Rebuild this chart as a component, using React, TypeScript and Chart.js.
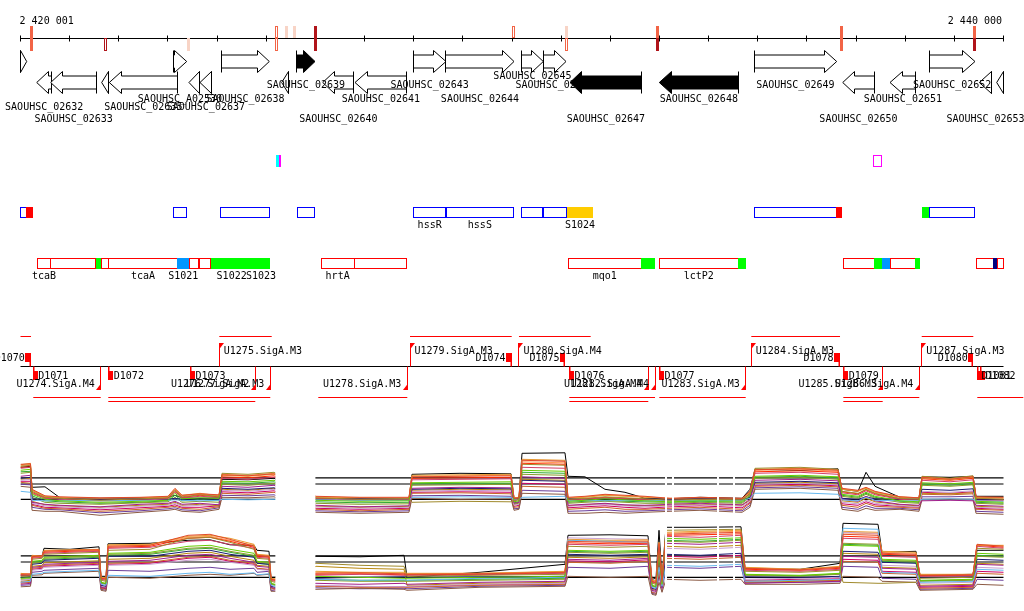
import React, { useEffect, useRef } from 'react';
import { Chart, registerables } from 'chart.js';

Chart.register(...registerables);

// ---------- genome view ----------
const VIEW_START = 2420000;
const VIEW_END = 2440000;
const TICK_STEP = 1000;
const AXIS_LABEL_POS = [2420001, 2440000];
const AXIS_LABEL_TEXT = ['2 420 001', '2 440 000'];

// variant marks on the ruler
const MARK_POS = [2420214, 2421740, 2423408, 2425219, 2425402, 2425565, 2425992, 2430041, 2431119, 2432964, 2436694, 2439420];
const MARK_UP = ['salmon', '', '', 'salmonLine', 'pink', 'pink', 'darkred', 'salmonLine', 'pink', 'salmon', 'salmon', 'salmon'];
const MARK_DOWN = ['salmon', 'darkredLine', 'pink', 'salmonLine', '', '', 'darkred', '', 'salmonLine', 'darkred', 'salmon', 'darkred'];

// genes
const GENE_START = [2419800, 2423109, 2424094, 2425620, 2427992, 2428657, 2430197, 2430637, 2434924, 2438490,
  2420330, 2420614, 2421652, 2421807, 2423428, 2423652, 2425314, 2426149, 2426806, 2431180, 2432997, 2436729, 2437691, 2439508, 2439862];
const GENE_END = [2420126, 2423381, 2425062, 2425992, 2428657, 2430041, 2430637, 2431099, 2436606, 2439420,
  2420635, 2421550, 2421786, 2423190, 2423652, 2423890, 2425449, 2426785, 2427858, 2432639, 2434604, 2437371, 2438214, 2439760, 2440300];
const GENE_STRAND = [1, 1, 1, 1, 1, 1, 1, 1, 1, 1, -1, -1, -1, -1, -1, -1, -1, -1, -1, -1, -1, -1, -1, -1, -1];
const GENE_FILLED = [0, 0, 0, 1, 0, 0, 0, 0, 0, 0, 0, 0, 0, 0, 0, 0, 0, 0, 0, 1, 1, 0, 0, 0, 0];
const GENE_NAME = ['', 'SAOUHSC_A02530', 'SAOUHSC_02638', 'SAOUHSC_02639', 'SAOUHSC_02643', 'SAOUHSC_02644', 'SAOUHSC_02645', 'SAOUHSC_02646', 'SAOUHSC_02649', 'SAOUHSC_02652',
  'SAOUHSC_02632', 'SAOUHSC_02633', '', 'SAOUHSC_02635', '', 'SAOUHSC_02637', '', 'SAOUHSC_02640', 'SAOUHSC_02641', 'SAOUHSC_02647', 'SAOUHSC_02648', 'SAOUHSC_02650', 'SAOUHSC_02651', 'SAOUHSC_02653', ''];
const GENE_LABEL_ROW = [0, 2, 2, 1, 1, 2, 0, 1, 1, 1, 3, 4, 0, 3, 0, 3, 0, 4, 2, 4, 2, 4, 2, 4, 0];

// annotation row A
const A_START = [2425198, 2425266, 2437351];
const A_END = [2425266, 2425300, 2437522];
const A_KIND = ['fill', 'fill', 'line'];
const A_COLOR = ['#00ffff', '#ff00ff', '#ff00ff'];

// annotation row B (forward)
const B_START = [2420000, 2420112, 2423109, 2424078, 2425632, 2427992, 2428657, 2430197, 2430631, 2431119, 2434930, 2436592, 2438342, 2438490];
const B_END = [2420112, 2420254, 2423381, 2425070, 2425986, 2428657, 2430035, 2430631, 2431093, 2431648, 2436592, 2436714, 2438490, 2439414];
const B_KIND = ['line', 'fill', 'line', 'line', 'line', 'line', 'line', 'line', 'line', 'fill', 'line', 'fill', 'fill', 'line'];
const B_COLOR = ['#0000ff', '#ff0000', '#0000ff', '#0000ff', '#0000ff', '#0000ff', '#0000ff', '#0000ff', '#0000ff', '#ffcc00', '#0000ff', '#ff0000', '#00ff00', '#0000ff'];
const B_LABEL = ['', '', '', '', '', 'hssR', 'hssS', '', '', 'S1024', '', '', '', ''];

// annotation row C (reverse)
const C_START = [2420342, 2420614, 2421536, 2421658, 2421795, 2423190, 2423434, 2423652, 2423882, 2424710, 2426114, 2426791, 2431146, 2432631, 2432997, 2434604, 2436741, 2437365, 2437528, 2437691, 2438199, 2439441, 2439780, 2439874];
const C_END = [2420614, 2421536, 2421638, 2421795, 2423190, 2423434, 2423626, 2423882, 2424710, 2425077, 2426791, 2427858, 2432631, 2432910, 2434604, 2434761, 2437365, 2437528, 2437691, 2438199, 2438301, 2439780, 2439874, 2440000];
const C_KIND = ['line', 'line', 'fill', 'line', 'line', 'fill', 'line', 'line', 'fill', 'fill', 'line', 'line', 'line', 'fill', 'line', 'fill', 'line', 'fill', 'fill', 'line', 'fill', 'line', 'fill', 'line'];
const C_COLOR = ['#ff0000', '#ff0000', '#00ff00', '#ff0000', '#ff0000', '#0096ff', '#ff0000', '#ff0000', '#00ff00', '#00ff00', '#ff0000', '#ff0000', '#ff0000', '#00ff00', '#ff0000', '#00ff00', '#ff0000', '#00ff00', '#0096ff', '#ff0000', '#00ff00', '#ff0000', '#000080', '#ff0000'];
const C_LABEL = ['tcaB', '', '', '', 'tcaA', 'S1021', '', '', 'S1022', 'S1023', 'hrtA', '', 'mqo1', '', 'lctP2', '', '', '', '', '', '', '', '', ''];

// transcription units (coverage lines)
const COV_START = [2420000, 2424045, 2427925, 2430142, 2434869, 2438336, 2420260, 2421786, 2426059, 2431166, 2432997, 2436741, 2439467, 2421786, 2431166, 2436741];
const COV_END = [2420214, 2425111, 2429994, 2431601, 2436674, 2439386, 2421632, 2425082, 2427870, 2432910, 2434755, 2438287, 2440403, 2424777, 2432773, 2437542];
const COV_STRAND = [1, 1, 1, 1, 1, 1, -1, -1, -1, -1, -1, -1, -1, -1, -1, -1];
const COV_LEVEL = [0, 0, 0, 0, 0, 0, 0, 0, 0, 0, 0, 0, 0, 1, 1, 1];

// promoters
const PROM_POS = [2424045, 2427925, 2430142, 2434869, 2438336, 2421632, 2424777, 2425082, 2427870, 2432773, 2432910, 2434755, 2437542, 2438287];
const PROM_STRAND = [1, 1, 1, 1, 1, -1, -1, -1, -1, -1, -1, -1, -1, -1];
const PROM_LABEL = ['U1275.SigA.M3', 'U1279.SigA.M3', 'U1280.SigA.M4', 'U1284.SigA.M3', 'U1287.SigA.M3', 'U1274.SigA.M4', 'U1276.SigA.M2', 'U1277.SigA.M3', 'U1278.SigA.M3', 'U1281.SigA.M4', 'U1282.SigA.M4', 'U1283.SigA.M3', 'U1285.SigB.M3', 'U1286.SigA.M4'];

// terminators
const TERM_START = [2420098, 2429878, 2430977, 2436551, 2439284, 2420260, 2421786, 2423449, 2431166, 2432997, 2436741, 2439467, 2439532];
const TERM_END = [2420214, 2429994, 2431078, 2436674, 2439386, 2420350, 2421888, 2423550, 2431262, 2433093, 2436842, 2439542, 2439624];
const TERM_STRAND = [1, 1, 1, 1, 1, -1, -1, -1, -1, -1, -1, -1, -1];
const TERM_LABEL = ['D1070', 'D1074', 'D1075', 'D1078', 'D1080', 'D1071', 'D1072', 'D1073', 'D1076', 'D1077', 'D1079', 'D1081', 'D1082'];

// ---------- expression profiles ----------
const REF_LEVELS = [0, 3.06, 4.3];
const GAP_START = [2425185, 2433113, 2433255, 2434171, 2434497];
const GAP_END = [2426000, 2433154, 2433296, 2434212, 2434537];

const TOP_POS = [2420000, 2420203, 2420234, 2420498, 2420804, 2421618, 2422431, 2423001, 2423143, 2423286, 2423652, 2424039,
  2424100, 2424629, 2425158, 2426012, 2426907, 2427904, 2427965, 2428942, 2429980, 2430041, 2430142, 2430204, 2431078,
  2431139, 2431485, 2431892, 2432299, 2432706, 2433215, 2433825, 2434680, 2434842, 2434944, 2435860, 2436633, 2436714,
  2437040, 2437203, 2437386, 2437894, 2438281, 2438342, 2438912, 2439380, 2439441, 2440010];

const TOP_S1 = [7.0, 7.1, 2.0, 0.7, 0.5, 0.3, 0.4, 0.6, 2.2, 0.8, 1.1, 0.9, 4.9, 4.7, 5.1, 0.6, 0.4, 0.4, 4.5, 4.6, 4.7, 0.2, 0.3, 7.8, 7.6, 0.4, 0.6, 1.0, 0.8, 0.6, 0.2, 0.4, 0.2, 1.6, 5.9, 6.1, 5.8, 2.2, 1.8, 2.4, 1.6, 0.5, 0.3, 4.4, 4.0, 4.5, 0.5, 0.4];
const TOP_S2 = [6.6, 6.8, 1.6, 0.4, 0.2, -0.2, 0.1, 0.3, 1.8, 0.5, 0.9, 0.6, 5.2, 5.0, 5.4, 0.3, 0.0, 0.1, -0.6, -0.4, -0.5, -0.2, 0.0, 7.0, 6.8, 0.0, 0.2, 0.5, 0.3, 0.1, -0.2, 0.0, -0.1, 1.2, 6.2, 6.4, 6.0, 1.6, 1.2, 2.0, 1.2, 0.2, 0.0, 4.6, 4.2, 4.7, 0.2, 0.0];
const TOP_S3 = [5.8, 6.0, 1.0, 0.0, -0.3, -0.6, -0.4, -0.2, 1.2, 0.1, 0.3, 0.2, 3.6, 3.5, 3.8, -0.2, -0.4, -0.3, 3.3, 3.4, 3.5, -0.5, -0.3, 5.8, 5.6, -0.4, -0.2, 0.1, -0.1, -0.3, -0.5, -0.3, -0.4, 0.8, 4.6, 4.8, 4.5, 1.0, 0.6, 1.4, 0.6, -0.3, -0.5, 3.3, 3.1, 3.4, -0.4, -0.6];
const TOP_S4 = [1.6, 1.4, -0.2, -0.3, -0.2, -0.3, -0.2, -0.2, -0.1, -0.2, -0.3, -0.2, 0.0, -0.1, 0.0, -0.1, -0.2, -0.2, 0.4, 0.5, 0.4, -0.1, 0.0, 0.4, 0.6, -0.3, -0.2, -0.3, -0.2, -0.3, -0.2, -0.3, -0.2, 0.2, 1.2, 1.3, 1.0, -0.1, -0.3, 0.4, -0.2, -0.3, -0.3, 0.0, 0.1, 0.0, -0.3, -0.4];
const TOP_S5 = [4.6, 4.8, -0.6, -1.0, -1.2, -1.5, -1.0, -0.8, -0.4, -1.0, -0.8, -1.1, 2.6, 2.4, 2.8, -1.2, -1.5, -1.3, 2.2, 2.4, 2.3, -0.8, -0.6, 4.5, 4.2, -1.2, -1.0, -0.8, -1.1, -1.2, -1.0, -0.8, -1.1, 0.0, 3.8, 4.0, 3.7, 0.0, -0.4, 0.6, -0.3, -1.0, -1.2, -0.3, -0.2, -0.3, -1.2, -1.4];
const TOP_S6 = [2.6, 2.4, -2.2, -2.4, -2.4, -3.2, -2.6, -2.2, -2.0, -2.4, -2.6, -2.0, 0.4, 0.3, 0.5, -2.6, -2.8, -2.6, 0.2, 0.0, 0.1, -2.2, -2.0, 1.2, 1.0, -2.8, -2.8, -2.6, -2.8, -2.6, -2.4, -2.2, -2.6, -1.6, 2.0, 2.2, 1.8, -2.0, -2.4, -1.8, -2.2, -2.0, -2.4, -0.1, 0.0, -0.1, -2.8, -3.0];
const TOP_S7 = [6.2, 6.4, 1.2, 0.2, 0.0, -0.3, -0.2, 0.1, 1.5, 0.3, 0.6, 0.4, 4.2, 4.0, 4.4, 0.1, -0.2, -0.1, 3.9, 4.0, 4.1, -0.3, -0.1, 6.4, 6.2, -0.2, 0.0, 0.3, 0.1, -0.1, -0.3, -0.1, -0.2, 1.0, 5.2, 5.4, 5.0, 1.3, 0.9, 1.7, 0.9, 0.0, -0.2, 3.8, 3.5, 3.9, -0.2, -0.3];
const TOP_S8 = [4.2, 4.4, 0.1, 0.0, 0.1, 0.0, 0.1, 0.0, 0.2, 0.0, 0.1, 0.0, 2.2, 2.0, 2.3, 0.0, 0.1, 0.0, 2.0, 2.2, 2.1, 0.0, 0.1, 3.8, 3.6, 0.1, 0.0, 0.1, 0.0, 0.1, 0.0, 0.1, 0.0, 0.3, 3.4, 3.6, 3.3, 0.2, 0.0, 0.5, 0.1, 0.0, 0.0, 2.0, 1.8, 2.1, 0.0, -0.1];
const TOP_S9 = [6.9, 7.2, 1.8, 0.6, 0.3, 0.1, 0.3, 0.5, 2.0, 0.8, 1.2, 0.7, 4.8, 4.6, 5.0, 0.5, 0.3, 0.2, 4.8, 4.9, 5.0, 0.3, 0.4, 8.0, 7.8, 0.2, 0.4, 0.8, 0.6, 0.4, 0.1, 0.3, 0.1, 1.4, 6.0, 6.2, 5.9, 2.0, 1.6, 2.2, 1.4, 0.4, 0.2, 4.3, 3.9, 4.4, 0.4, 0.3];
const TOP_S10 = [3.8, 4.0, -0.8, -1.3, -1.5, -1.8, -1.4, -1.2, -0.8, -1.4, -1.2, -1.0, 1.8, 1.6, 2.0, -1.5, -1.8, -1.6, 1.6, 1.8, 1.7, -1.2, -1.0, 7.9, 7.7, -1.4, -1.2, -1.0, -1.3, -1.5, -1.3, -1.1, -1.4, -0.4, 3.0, 3.2, 2.9, -0.6, -0.9, -0.2, -0.8, -1.3, -1.5, 1.6, 1.4, 1.7, -1.6, -1.8];
const TOP_S11 = [5.2, 5.4, 0.4, -0.6, -0.8, -1.0, -0.7, -0.5, 0.4, -0.6, -0.4, -0.6, 3.0, 2.8, 3.2, -0.8, -1.0, -0.9, 2.8, 2.9, 3.0, -1.0, -0.8, 5.0, 4.8, -0.8, -0.6, -0.4, -0.6, -0.8, -0.8, -0.6, -0.8, 0.4, 4.2, 4.4, 4.0, 0.6, 0.2, 1.0, 0.2, -0.6, -0.8, 2.8, 2.6, 2.9, -0.8, -1.0];
const TOP_S12 = [3.4, 3.2, -1.2, -1.8, -1.9, -2.4, -2.0, -1.6, -1.4, -1.8, -2.0, -1.5, 1.2, 1.0, 1.4, -2.0, -2.3, -2.0, 1.2, 1.3, 1.1, -1.6, -1.5, 2.6, 2.4, -2.0, -1.8, -1.6, -2.0, -2.0, -1.8, -1.6, -2.0, -0.8, 2.6, 2.8, 2.5, -1.2, -1.6, -0.8, -1.4, -1.6, -1.8, 1.0, 0.9, 1.1, -2.0, -2.2];
const TOP_S13 = [6.4, 6.5, 1.4, 0.3, 0.1, -0.1, 0.0, 0.2, 1.6, 0.4, 0.8, 0.5, 4.5, 4.3, 4.7, 0.2, 0.0, 0.0, 4.2, 4.3, 4.4, -0.2, 0.1, 7.2, 7.0, -0.1, 0.1, 0.4, 0.2, 0.0, -0.1, 0.1, -0.1, 1.1, 5.5, 5.7, 5.4, 1.5, 1.1, 1.9, 1.1, 0.1, -0.1, 4.1, 3.8, 4.2, 0.1, -0.1];
const TOP_S14 = [4.0, 4.2, -0.4, -1.1, -1.3, -1.6, -1.2, -1.0, -0.6, -1.2, -1.0, -1.3, 2.0, 1.8, 2.2, -1.4, -1.6, -1.4, 1.8, 2.0, 1.9, -1.0, -0.8, 4.0, 3.8, -1.3, -1.1, -0.9, -1.2, -1.3, -1.2, -1.0, -1.2, -0.2, 3.2, 3.4, 3.1, -0.3, -0.6, 0.2, -0.5, -1.1, -1.3, 1.2, 1.1, 1.3, -1.4, -1.6];
const TOP_S15 = [5.5, 5.6, 0.7, -0.3, -0.5, -0.8, -0.6, -0.3, 0.8, -0.3, 0.0, -0.2, 3.3, 3.2, 3.5, -0.5, -0.7, -0.6, 3.1, 3.2, 3.2, -0.7, -0.5, 5.4, 5.2, -0.6, -0.4, -0.2, -0.4, -0.5, -0.6, -0.4, -0.6, 0.6, 4.4, 4.6, 4.3, 0.8, 0.4, 1.2, 0.4, -0.4, -0.6, 3.0, 2.8, 3.1, -0.6, -0.8];
const TOP_S16 = [3.6, 3.6, -1.0, -1.6, -1.7, -2.1, -1.7, -1.4, -1.1, -1.6, -1.6, -1.3, 1.5, 1.3, 1.7, -1.8, -2.0, -1.8, 1.4, 1.5, 1.4, -1.4, -1.2, 3.2, 3.0, -1.7, -1.5, -1.3, -1.6, -1.8, -1.5, -1.3, -1.7, -0.6, 2.8, 3.0, 2.7, -0.9, -1.2, -0.5, -1.1, -1.4, -1.6, 1.4, 1.2, 1.5, -1.8, -2.0];
const TOP_S17 = [3.0, 2.9, -1.6, -2.0, -2.1, -2.7, -2.3, -1.9, -1.7, -2.1, -2.3, -1.7, 0.8, 0.7, 0.9, -2.3, -2.5, -2.3, 0.7, 0.8, 0.6, -1.9, -1.8, 1.8, 1.6, -2.4, -2.3, -2.1, -2.4, -2.3, -2.1, -1.9, -2.3, -1.2, 2.3, 2.5, 2.2, -1.6, -2.0, -1.3, -1.8, -1.8, -2.1, 0.5, 0.5, 0.6, -2.4, -2.6];
const TOP_S18 = [6.7, 7.0, 1.9, 0.5, 0.4, 0.2, 0.2, 0.4, 1.9, 0.7, 1.0, 0.8, 5.0, 4.8, 5.2, 0.4, 0.2, 0.3, 4.6, 4.7, 4.8, 0.1, 0.2, 7.5, 7.3, 0.3, 0.5, 0.9, 0.7, 0.5, 0.2, 0.2, 0.1, 1.5, 5.8, 6.0, 5.6, 2.1, 1.7, 2.3, 1.5, 0.5, 0.3, 4.5, 4.1, 4.6, 0.3, 0.2];
const TOP_BLACK = [6.4, 6.6, 2.4, 2.5, 0.3, 0.2, 0.3, 0.4, 0.8, 0.3, 0.2, 0.3, 4.0, 3.9, 4.2, 0.0, 0.1, 0.0, 5.0, 5.2, 5.1, 0.2, 0.4, 9.2, 9.3, 4.6, 4.5, 2.0, 1.4, 0.2, 0.1, 0.4, 0.2, 2.0, 6.0, 5.8, 6.1, 2.0, 1.6, 5.4, 2.6, 0.4, 0.3, 4.5, 4.4, 4.6, 0.6, 0.6];

const BOT_POS = [2420000, 2420203, 2420234, 2420437, 2420478, 2421007, 2421597, 2421638, 2421740, 2421780, 2422635, 2423408,
  2423856, 2424262, 2424751, 2424812, 2425056, 2425097, 2425178, 2426012, 2426907, 2427803, 2427864, 2429349, 2431078,
  2431139, 2431994, 2432767, 2432848, 2432930, 2432991, 2433052, 2433133, 2433825, 2434659, 2434741, 2435860, 2436674,
  2436735, 2437447, 2437528, 2438220, 2438301, 2439380, 2439461, 2440010];

const BOT_S1 = [0.6, 0.7, 4.2, 4.3, 5.2, 5.4, 5.5, -0.2, -0.3, 6.2, 6.4, 8.4, 8.6, 7.6, 6.2, 4.4, 4.2, -0.4, -0.5, 0.8, 0.9, 0.7, 0.6, 0.7, 1.0, 7.2, 7.0, 7.1, -0.8, -1.0, 6.8, -0.6, 8.6, 8.8, 9.0, 1.8, 1.5, 2.0, 8.6, 8.4, 4.8, 4.6, 0.4, 0.5, 6.6, 6.2];
const BOT_S2 = [0.2, 0.3, 3.6, 3.8, 4.6, 4.8, 5.0, -0.6, -0.8, 5.4, 5.6, 7.8, 8.0, 7.0, 5.6, 3.8, 3.6, -0.8, -1.0, 2.8, 2.4, 2.2, 0.2, 0.4, 0.6, 6.2, 6.0, 6.2, -1.2, -1.4, 5.0, -1.0, 9.4, 9.5, 9.6, 1.2, 1.0, 1.4, -1.0, -1.2, -1.2, -1.0, -0.2, 0.0, 5.8, 5.6];
const BOT_S3 = [-0.2, -0.1, 3.2, 3.4, 4.0, 4.2, 4.4, -1.0, -1.2, 4.8, 5.0, 6.2, 6.4, 5.6, 4.8, 3.2, 3.0, -1.2, -1.4, 0.2, 0.0, -0.2, -0.2, 0.0, 0.2, 5.4, 5.2, 5.4, -1.6, -1.8, 4.4, -1.4, 7.8, 7.6, 7.9, 0.6, 0.4, 0.8, 6.4, 6.2, 3.6, 3.4, -0.6, -0.4, 4.8, 4.6];
const BOT_S4 = [-1.0, -0.8, 0.6, 0.8, 1.0, 1.2, 1.4, -1.4, -1.6, 0.4, 0.2, 0.8, 1.0, 0.6, 0.9, 0.5, 0.7, -1.6, -1.8, -0.4, -0.6, -0.5, -0.6, -0.2, 0.0, 7.4, 7.2, 7.0, -2.0, -2.2, 2.0, -1.8, 2.4, 2.2, 2.6, -0.8, -0.6, -0.4, 9.8, 9.6, 1.0, 0.8, -1.0, -0.8, 1.6, 1.4];
const BOT_S5 = [-1.4, -1.2, 2.0, 2.2, 2.6, 2.8, 3.0, -2.0, -2.2, 3.2, 3.4, 4.4, 4.6, 3.8, 3.0, 2.2, 2.0, -2.0, -2.2, -1.2, -1.4, -1.2, -1.4, -1.0, -0.8, 3.6, 3.4, 3.8, -2.6, -2.8, 2.6, -2.2, 6.8, 6.6, 7.0, -1.2, -1.0, -0.8, 4.2, 4.0, 1.8, 1.6, -1.8, -1.6, 2.6, 2.4];
const BOT_S6 = [-1.9, -1.8, 0.4, 0.5, 0.8, 1.0, 1.2, -2.6, -2.8, 0.0, -0.2, 0.4, 0.6, 0.4, 0.8, 0.4, 0.6, -2.8, -2.8, -2.4, -2.2, -2.4, -2.6, -2.0, -1.8, 0.2, 0.0, 0.2, -3.4, -3.6, -1.0, -3.0, -0.4, -0.6, -0.4, -1.4, -1.4, -1.2, 0.2, 0.0, -0.8, -1.0, -2.6, -2.4, -1.4, -1.6];
const BOT_S7 = [0.4, 0.5, 3.8, 4.0, 4.8, 5.0, 5.2, -0.4, -0.6, 5.8, 6.0, 7.2, 7.4, 6.6, 5.8, 4.0, 3.8, -0.6, -0.8, 0.4, 0.6, 0.4, 0.4, 0.5, 0.8, 6.6, 6.4, 6.6, -1.0, -1.2, 6.0, -0.8, 8.2, 8.0, 8.4, 1.4, 1.2, 1.6, 7.8, 7.6, 4.2, 4.0, 0.2, 0.3, 6.2, 5.8];
const BOT_S8 = [0.0, 0.1, 2.6, 2.8, 3.4, 3.6, 3.8, -1.6, -1.8, 4.2, 4.2, 5.2, 5.4, 4.6, 4.0, 2.8, 2.6, -1.8, -2.0, -0.2, 0.0, 0.1, 0.0, 0.1, 0.2, 4.6, 4.4, 4.6, -2.2, -2.4, 3.6, -2.0, 4.6, 4.4, 4.8, 0.1, 0.0, 0.2, 5.2, 5.0, 3.0, 2.8, 0.0, 0.1, 3.6, 3.4];
const BOT_S9 = [0.8, 0.6, 4.4, 4.2, 5.4, 5.5, 5.6, 0.0, -0.1, 6.5, 6.6, 8.2, 8.4, 7.8, 6.6, 4.6, 4.4, -0.2, -0.3, 1.2, 1.0, 1.0, 0.8, 0.8, 1.2, 7.6, 7.4, 7.5, -0.6, -0.7, 7.0, -0.4, 9.0, 9.2, 9.4, 2.0, 1.6, 2.2, 9.2, 9.0, 5.2, 5.0, 0.6, 0.6, 6.4, 6.4];
const BOT_S10 = [-0.6, -0.4, 1.4, 1.6, 2.0, 2.2, 2.4, -1.8, -2.0, 2.4, 2.6, 3.4, 3.6, 3.0, 2.4, 1.6, 1.4, -2.4, -2.6, -1.6, -1.8, -1.9, -1.8, -1.4, -1.2, 7.9, 7.7, 7.6, -2.8, -3.0, 5.6, -2.6, 5.8, 5.6, 6.0, -0.4, -0.2, 0.0, 9.0, 8.8, 2.4, 2.2, -1.2, -1.0, 2.0, 1.8];
const BOT_S11 = [-0.4, -0.3, 2.8, 3.0, 3.8, 4.0, 4.2, -1.2, -1.4, 4.6, 4.8, 5.8, 6.0, 5.2, 4.4, 3.0, 2.8, -1.4, -1.6, -0.6, -0.8, -0.8, -0.8, -0.6, -0.4, 5.0, 4.8, 5.0, -1.8, -2.0, 4.8, -1.6, 7.2, 7.0, 7.4, 0.4, 0.2, 0.6, 6.8, 6.6, 3.4, 3.2, -0.8, -0.6, 4.2, 4.0];
const BOT_S12 = [-1.2, -1.0, 1.8, 2.0, 2.4, 2.6, 2.8, -2.2, -2.4, 2.8, 3.0, 4.0, 4.2, 3.4, 2.8, 1.8, 1.6, -2.2, -2.4, -1.8, -2.0, -2.0, -2.0, -1.6, -1.4, 3.0, 2.8, 3.2, -3.0, -3.2, 1.2, -2.6, 3.8, 3.6, 4.0, -0.8, -0.6, -0.6, 3.2, 3.0, 0.8, 0.6, -2.2, -2.0, 0.8, 0.6];
const BOT_S13 = [0.5, 0.4, 4.0, 4.1, 5.0, 5.2, 5.3, -0.3, -0.4, 6.0, 6.2, 7.8, 8.0, 7.2, 6.0, 4.2, 4.0, -0.5, -0.6, 0.6, 0.7, 0.5, 0.5, 0.6, 0.9, 6.9, 6.7, 6.8, -0.9, -1.1, 6.4, -0.7, 8.4, 8.5, 8.7, 1.6, 1.4, 1.8, 8.2, 8.0, 4.6, 4.4, 0.3, 0.4, 6.4, 6.0];
const BOT_S14 = [-0.8, -0.6, 2.2, 2.4, 2.9, 3.1, 3.3, -1.9, -2.1, 3.6, 3.8, 4.8, 5.0, 4.2, 3.4, 2.4, 2.2, -2.1, -2.3, 2.2, 1.8, 1.6, -1.6, -1.2, -1.0, 4.0, 3.8, 4.1, -2.4, -2.6, 3.0, -2.4, 6.2, 6.0, 6.4, -1.0, -0.8, -0.6, 4.8, 4.6, 2.0, 1.8, -1.6, -1.4, 2.8, 2.6];
const BOT_S15 = [-0.1, 0.0, 3.0, 3.2, 3.6, 3.8, 4.0, -1.1, -1.3, 4.4, 4.6, 5.6, 5.8, 5.0, 4.2, 2.8, 2.6, -1.3, -1.5, -0.4, -0.6, -0.6, -0.6, -0.4, -0.2, 5.2, 5.0, 5.2, -1.7, -1.9, 4.6, -1.5, 7.4, 7.2, 7.6, 0.5, 0.3, 0.7, 6.6, 6.4, 3.2, 3.0, -0.7, -0.5, 4.4, 4.2];
const BOT_S16 = [-1.0, -0.9, 1.6, 1.8, 2.2, 2.4, 2.6, -2.1, -2.3, 2.6, 2.8, 3.8, 4.0, 3.2, 2.6, 1.7, 1.5, -2.3, -2.5, -1.7, -1.9, -1.9, -1.9, -1.5, -1.3, 3.3, 3.1, 3.5, -2.9, -3.1, 1.8, -2.5, 4.2, 4.0, 4.4, -0.6, -0.4, -0.3, 3.6, 3.4, 1.2, 1.0, -2.0, -1.8, 1.2, 1.0];
const BOT_S17 = [-1.6, -1.5, 1.0, 1.2, 1.4, 1.6, 1.8, -2.4, -2.6, 1.4, 1.2, 1.8, 2.0, 1.6, 1.8, 1.0, 1.2, -2.6, -2.7, -2.1, -2.3, -2.2, -2.3, -1.8, -1.6, 2.0, 1.8, 2.2, -3.2, -3.4, 0.4, -2.8, 2.0, 1.8, 2.2, -1.1, -1.0, -0.9, 2.2, 2.0, -0.2, -0.4, -2.4, -2.2, -0.4, -0.6];
const BOT_S18 = [0.7, 0.6, 4.3, 4.2, 5.3, 5.4, 5.5, -0.1, -0.2, 6.4, 6.5, 8.0, 8.2, 7.4, 6.4, 4.5, 4.3, -0.3, -0.4, 1.0, 0.9, 0.8, 0.7, 0.8, 1.1, 7.4, 7.2, 7.3, -0.7, -0.8, 6.9, -0.5, 8.8, 9.0, 9.2, 1.9, 1.6, 2.1, 8.9, 8.7, 5.0, 4.8, 0.5, 0.5, 6.5, 6.3];
const BOT_BLACK = [0.4, 0.4, 4.3, 4.2, 5.8, 5.6, 6.1, 0.2, 0.2, 6.7, 6.8, 7.4, 7.5, 6.5, 6.4, 5.4, 5.2, 0.0, 0.0, 4.2, 4.1, 4.4, 0.0, 1.0, 2.6, 8.4, 8.5, 8.3, -0.4, -0.2, 9.4, 0.0, 10.0, 10.0, 10.1, 1.8, 1.6, 2.8, 10.8, 10.6, 5.0, 5.2, 0.4, 0.6, 5.4, 5.4];

const SERIES_COLORS = ['#e04a2c', '#a08a2c', '#66cc00', '#66b8ee', '#a0208c', '#8b5a44', '#d0406a', '#1a1a70', '#e89a30',
  '#c8a0d0', '#8a9a2a', '#c86428', '#ff2a00', '#b8860b', '#33aa33', '#cc0066', '#6a3d9a', '#ff9955'];
const TOP_SERIES = [TOP_S1, TOP_S2, TOP_S3, TOP_S4, TOP_S5, TOP_S6, TOP_S7, TOP_S8, TOP_S9, TOP_S10, TOP_S11, TOP_S12, TOP_S13, TOP_S14, TOP_S15, TOP_S16, TOP_S17, TOP_S18];
const BOT_SERIES = [BOT_S1, BOT_S2, BOT_S3, BOT_S4, BOT_S5, BOT_S6, BOT_S7, BOT_S8, BOT_S9, BOT_S10, BOT_S11, BOT_S12, BOT_S13, BOT_S14, BOT_S15, BOT_S16, BOT_S17, BOT_S18];

// ---------- layout ----------
const FONT = '10px "DejaVu Sans Mono", monospace';
const RULER_Y = 38.5;
const FWD_MID = 61.5;
const REV_MID = 82.5;
const LABEL_BASE = [78.5, 87.5, 101.5, 109.5, 121.5];
const ROW_A = [155.5, 11];
const ROW_B = [207.5, 10];
const ROW_C = [258.5, 10];
const ROW_B_LABEL = 227.5;
const ROW_C_LABEL = 278.5;
const PROM_AXIS = 366.5;
const EXPR_TOP = 440;
const EXPR_BOTTOM = 600;

const MARK_COLORS: Record<string, string> = {
  salmon: '#f26446', salmonLine: '#f26446', pink: '#f8d4c6', darkred: '#b0141a', darkredLine: '#b0141a',
};

const tracksPlugin = {
  id: 'tracks',
  beforeDatasetsDraw(chart: any) {
    const ctx = chart.ctx;
    const xs = chart.scales.x;
    const L = chart.chartArea.left;
    const R = chart.chartArea.right;
    const X = (v: number) => xs.getPixelForValue(v);
    const cr = (p: number) => Math.floor(p) + 0.5;
    ctx.save();
    ctx.font = FONT;
    ctx.textBaseline = 'alphabetic';

    // ruler
    ctx.strokeStyle = '#000';
    ctx.lineWidth = 1;
    ctx.beginPath();
    ctx.moveTo(X(VIEW_START), RULER_Y);
    ctx.lineTo(X(VIEW_END), RULER_Y);
    for (let t = VIEW_START; t <= VIEW_END; t += TICK_STEP) {
      const x = cr(X(t));
      ctx.moveTo(x, 35.5);
      ctx.lineTo(x, 41.5);
    }
    ctx.stroke();
    ctx.fillStyle = '#000';
    ctx.textAlign = 'left';
    ctx.fillText(AXIS_LABEL_TEXT[0], X(AXIS_LABEL_POS[0]) - 1, 24);
    ctx.textAlign = 'right';
    ctx.fillText(AXIS_LABEL_TEXT[1], X(AXIS_LABEL_POS[1]) - 1.5, 24);

    // marks
    const drawMark = (x: number, kind: string, y1: number, y2: number) => {
      if (!kind) return;
      const c = MARK_COLORS[kind];
      if (kind.endsWith('Line')) {
        ctx.strokeStyle = c;
        ctx.lineWidth = 1;
        ctx.strokeRect(cr(x - 1.5), y1 + 0.5, 2, y2 - y1 - 1);
      } else {
        ctx.fillStyle = c;
        ctx.fillRect(Math.round(x - 1.5), y1, 3, y2 - y1);
      }
    };
    for (let i = 0; i < MARK_POS.length; i++) {
      const x = X(MARK_POS[i]);
      drawMark(x, MARK_UP[i], 26, 38);
      drawMark(x, MARK_DOWN[i], 38, 51);
    }

    // genes
    ctx.lineWidth = 1;
    ctx.strokeStyle = '#000';
    for (let i = 0; i < GENE_START.length; i++) {
      const a = Math.max(L, X(GENE_START[i]));
      const b = Math.min(R, X(GENE_END[i]));
      const fwd = GENE_STRAND[i] > 0;
      const mid = fwd ? FWD_MID : REV_MID;
      const hh = 11;
      const hs = 6.5;
      const head = Math.min(12, b - a);
      const base = cr(fwd ? a : b);
      const tip = fwd ? b : a;
      const hb = cr(fwd ? b - head : a + head);
      ctx.beginPath();
      ctx.moveTo(base, mid - hs);
      ctx.lineTo(hb, mid - hs);
      ctx.lineTo(hb, mid - hh);
      ctx.lineTo(tip, mid);
      ctx.lineTo(hb, mid + hh);
      ctx.lineTo(hb, mid + hs);
      ctx.lineTo(base, mid + hs);
      ctx.closePath();
      ctx.fillStyle = GENE_FILLED[i] ? '#000' : '#fff';
      ctx.fill();
      ctx.stroke();
      ctx.beginPath();
      ctx.moveTo(base, mid - hh);
      ctx.lineTo(base, mid + hh);
      ctx.stroke();
    }
    ctx.fillStyle = '#000';
    ctx.textAlign = 'center';
    for (let i = 0; i < GENE_START.length; i++) {
      if (!GENE_NAME[i]) continue;
      const c = (X(GENE_START[i]) + X(GENE_END[i])) / 2;
      ctx.fillText(GENE_NAME[i], c, LABEL_BASE[GENE_LABEL_ROW[i]]);
    }

    // annotation rows
    const drawRow = (st: number[], en: number[], kind: string[], col: string[], row: number[], labels: string[] | null, ly: number) => {
      for (let i = 0; i < st.length; i++) {
        const a = Math.max(L, X(st[i]));
        const b = Math.min(R, X(en[i]));
        if (kind[i] === 'fill') {
          ctx.fillStyle = col[i];
          ctx.fillRect(Math.round(a), row[0] - 0.5, Math.max(1, Math.round(b) - Math.round(a)), row[1] + 1);
        } else {
          ctx.strokeStyle = col[i];
          ctx.lineWidth = 1;
          ctx.strokeRect(cr(a), row[0], Math.max(1, Math.round(b - a)), row[1]);
        }
      }
      if (labels) {
        ctx.fillStyle = '#000';
        ctx.textAlign = 'center';
        for (let i = 0; i < st.length; i++) {
          if (!labels[i]) continue;
          ctx.fillText(labels[i], (X(st[i]) + X(en[i])) / 2, ly);
        }
      }
    };
    drawRow(A_START, A_END, A_KIND, A_COLOR, ROW_A, null, 0);
    drawRow(B_START, B_END, B_KIND, B_COLOR, ROW_B, B_LABEL, ROW_B_LABEL);
    drawRow(C_START, C_END, C_KIND, C_COLOR, ROW_C, C_LABEL, ROW_C_LABEL);

    // promoter / terminator track
    ctx.strokeStyle = '#000';
    ctx.lineWidth = 1;
    ctx.beginPath();
    ctx.moveTo(X(VIEW_START), PROM_AXIS);
    ctx.lineTo(X(VIEW_END), PROM_AXIS);
    ctx.stroke();

    for (let i = 0; i < COV_START.length; i++) {
      const y = COV_STRAND[i] > 0 ? PROM_AXIS - 30 : PROM_AXIS + 31 + COV_LEVEL[i] * 4;
      ctx.strokeStyle = '#ff0000';
      ctx.lineWidth = 1;
      ctx.beginPath();
      ctx.moveTo(X(COV_START[i]), y);
      ctx.lineTo(X(COV_END[i]), y);
      ctx.stroke();
    }

    ctx.fillStyle = '#ff0000';
    for (let i = 0; i < PROM_POS.length; i++) {
      const x = cr(X(PROM_POS[i]));
      ctx.strokeStyle = '#ff0000';
      ctx.beginPath();
      if (PROM_STRAND[i] > 0) {
        ctx.moveTo(x, PROM_AXIS);
        ctx.lineTo(x, PROM_AXIS - 23);
        ctx.stroke();
        ctx.beginPath();
        ctx.moveTo(x - 0.5, PROM_AXIS - 23.5);
        ctx.lineTo(x + 4.5, PROM_AXIS - 23.5);
        ctx.lineTo(x - 0.5, PROM_AXIS - 17);
        ctx.closePath();
        ctx.fill();
      } else {
        ctx.moveTo(x, PROM_AXIS);
        ctx.lineTo(x, PROM_AXIS + 23);
        ctx.stroke();
        ctx.beginPath();
        ctx.moveTo(x + 0.5, PROM_AXIS + 23.5);
        ctx.lineTo(x - 4.5, PROM_AXIS + 23.5);
        ctx.lineTo(x + 0.5, PROM_AXIS + 17);
        ctx.closePath();
        ctx.fill();
      }
    }
    for (let i = 0; i < TERM_START.length; i++) {
      const a = Math.round(X(TERM_START[i]));
      const b = Math.round(X(TERM_END[i]));
      ctx.fillStyle = '#ff0000';
      if (TERM_STRAND[i] > 0) {
        ctx.fillRect(a, PROM_AXIS - 13.5, b - a, 9);
        ctx.fillRect(b - 1.5, PROM_AXIS - 5, 1.5, 5);
      } else {
        ctx.fillRect(a, PROM_AXIS + 4.5, b - a, 9);
        ctx.fillRect(a, PROM_AXIS, 1.5, 5);
      }
    }
    ctx.fillStyle = '#000';
    for (let i = 0; i < PROM_POS.length; i++) {
      const x = X(PROM_POS[i]);
      if (PROM_STRAND[i] > 0) {
        ctx.textAlign = 'left';
        ctx.fillText(PROM_LABEL[i], x + 4.5, PROM_AXIS - 13);
      } else {
        ctx.textAlign = 'right';
        ctx.fillText(PROM_LABEL[i], x - 6, PROM_AXIS + 20.5);
      }
    }
    for (let i = 0; i < TERM_START.length; i++) {
      if (TERM_STRAND[i] > 0) {
        ctx.textAlign = 'right';
        ctx.fillText(TERM_LABEL[i], X(TERM_START[i]) - 0.5, PROM_AXIS - 5.5);
      } else {
        ctx.textAlign = 'left';
        ctx.fillText(TERM_LABEL[i], X(TERM_END[i]) + 0.5, PROM_AXIS + 12);
      }
    }
    ctx.restore();
  },
  afterDatasetsDraw(chart: any) {
    const ctx = chart.ctx;
    const xs = chart.scales.x;
    ctx.save();
    ctx.fillStyle = '#ffffff';
    for (let i = 0; i < GAP_START.length; i++) {
      const a = xs.getPixelForValue(GAP_START[i]);
      const b = xs.getPixelForValue(GAP_END[i]);
      ctx.fillRect(a, EXPR_TOP, b - a, EXPR_BOTTOM - EXPR_TOP);
    }
    ctx.restore();
  },
};

function makeLine(pos: number[], vals: number[], color: string, axis: string, width = 1) {
  return {
    data: pos.map((x, i) => ({ x, y: vals[i] })),
    borderColor: color,
    backgroundColor: color,
    borderWidth: width,
    pointRadius: 0,
    tension: 0,
    fill: false,
    xAxisID: 'x',
    yAxisID: axis,
  };
}

export default function App() {
  const ref = useRef<HTMLCanvasElement | null>(null);
  useEffect(() => {
    if (!ref.current) return;
    const datasets: any[] = [];
    TOP_SERIES.forEach((s, i) => datasets.push(makeLine(TOP_POS, s, SERIES_COLORS[i], 'yTop')));
    BOT_SERIES.forEach((s, i) => datasets.push(makeLine(BOT_POS, s, SERIES_COLORS[i], 'yBot')));
    datasets.push(makeLine(TOP_POS, TOP_BLACK, '#000000', 'yTop'));
    datasets.push(makeLine(BOT_POS, BOT_BLACK, '#000000', 'yBot'));
    REF_LEVELS.forEach((lv) => {
      datasets.push(makeLine([VIEW_START, VIEW_END + 10], [lv, lv], '#000000', 'yTop', 1.2));
      datasets.push(makeLine([VIEW_START, VIEW_END + 10], [lv, lv], '#000000', 'yBot', 1.2));
    });
    const chart = new Chart(ref.current, {
      type: 'line',
      data: { datasets },
      options: {
        animation: false,
        responsive: false,
        devicePixelRatio: 1,
        events: [],
        layout: { padding: { left: 20.5, right: 20.5, top: 0, bottom: 0 } },
        plugins: { legend: { display: false }, tooltip: { enabled: false }, title: { display: false } },
        scales: {
          x: { type: 'linear', min: VIEW_START, max: VIEW_END, display: false },
          y: { display: false },
          yTop: { type: 'linear', min: -22.34, max: 99.86, display: false },
          yBot: { type: 'linear', min: -6.74, max: 115.46, display: false },
        },
      } as any,
      plugins: [tracksPlugin],
    });
    return () => chart.destroy();
  }, []);
  return (
    <div style={{ position: 'absolute', left: 0, top: 0, width: 1024, height: 611, background: '#ffffff' }}>
      <canvas ref={ref} width={1024} height={611} style={{ display: 'block' }} />
    </div>
  );
}
